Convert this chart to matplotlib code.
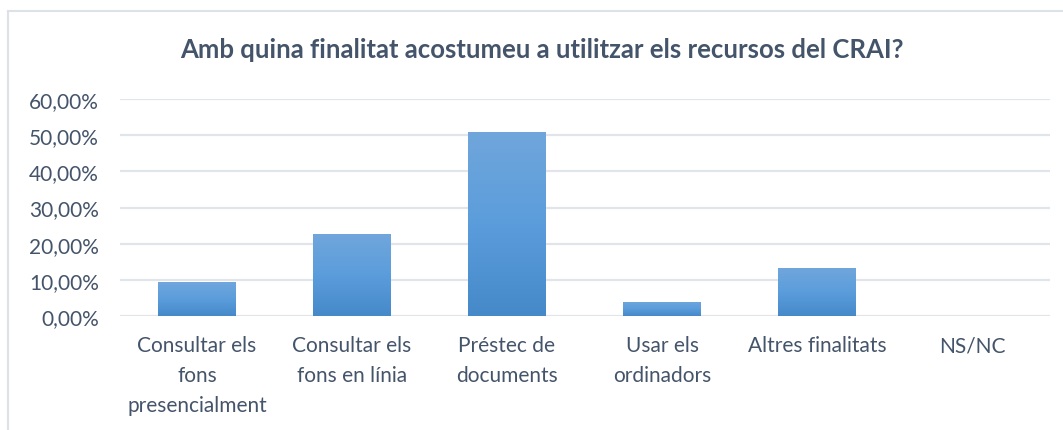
import matplotlib
matplotlib.use("Agg")
import matplotlib.pyplot as plt
import numpy as np
from matplotlib.ticker import FuncFormatter, MultipleLocator
from matplotlib.lines import Line2D
from matplotlib.colors import LinearSegmentedColormap

categories = ["Consultar els\nfons\npresencialment", "Consultar els\nfons en línia",
              "Préstec de\ndocuments", "Usar els\nordinadors", "Altres finalitats", "NS/NC"]
values = [9.4, 22.6, 51.0, 3.9, 13.2, 0.0]
title = "Amb quina finalitat acostumeu a utilitzar els recursos del CRAI?"

text_color = "#44546A"
plt.rcParams['font.family'] = ['Lato', 'DejaVu Sans']

fig = plt.figure(figsize=(10.63, 4.31), dpi=100)
W, H = 1063, 431
ax = fig.add_axes([119.5 / W, 1 - 317 / H, (1049.5 - 119.5) / W, (317 - 100) / H])

x = np.arange(len(categories))
bars = ax.bar(x, values, width=0.5, color="#5B9BD5", zorder=2)

cmap = LinearSegmentedColormap.from_list("g", ["#4689C9", "#5B9DDC", "#70A6DB"])
grad = np.linspace(0, 1, 256).reshape(-1, 1)
for b in bars:
    if b.get_height() <= 0:
        continue
    x0, y0 = b.get_x(), b.get_y()
    im = ax.imshow(grad, cmap=cmap, aspect="auto", origin="lower",
                   extent=[x0, x0 + b.get_width(), y0, y0 + b.get_height()], zorder=3)
    im.set_clip_path(b)

ax.set_xlim(-0.5, len(categories) - 0.5)
ax.set_ylim(0, 60)
ax.yaxis.set_major_locator(MultipleLocator(10))
ax.yaxis.set_major_formatter(FuncFormatter(lambda v, p: f"{v:.2f}".replace(".", ",") + "%"))
ax.grid(axis="y", color="#E1E4EA", linewidth=1.6, zorder=0)
ax.set_axisbelow(True)
for s in ax.spines.values():
    s.set_visible(False)
ax.tick_params(axis="both", length=0, colors=text_color, labelsize=15)
ax.tick_params(axis="y", pad=15)
ax.tick_params(axis="x", pad=14)
ax.set_xticks(x)
ax.set_xticklabels(categories, linespacing=1.6)

fig.text(542 / W, 1 - 50 / H, title, ha="center", va="center", fontsize=18.5,
         fontweight="bold", color=text_color)

# chart border (top and left edges)
fig.add_artist(Line2D([8 / W, 1], [1 - 12 / H, 1 - 12 / H], transform=fig.transFigure,
                      color="#DDE2E8", linewidth=1.5))
fig.add_artist(Line2D([8 / W, 8 / W], [0, 1 - 12 / H], transform=fig.transFigure,
                      color="#DDE2E8", linewidth=1.5))

fig.savefig("out.png", dpi=100, facecolor="white")
